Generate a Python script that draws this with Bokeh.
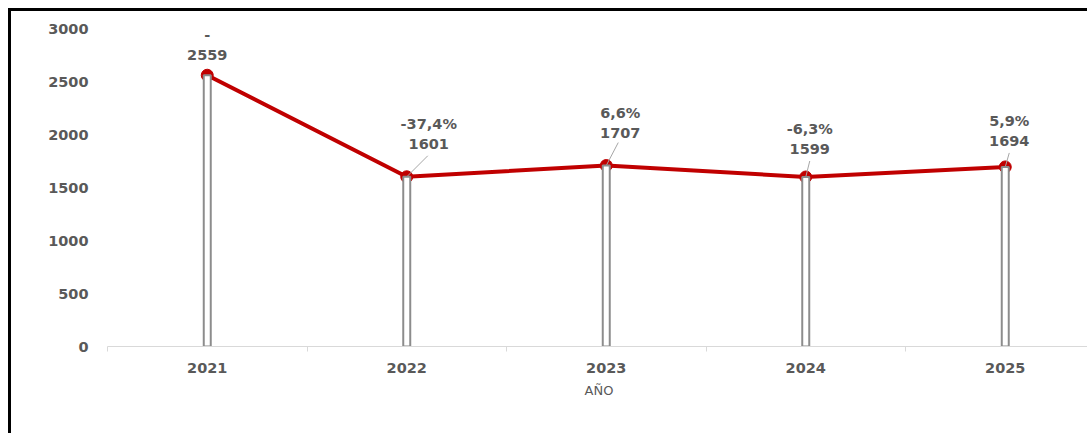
from bokeh.plotting import figure
from bokeh.models import Range1d, FixedTicker, ColumnDataSource, LinearAxis
from bokeh.core.properties import value
from bokeh.embed import file_html
from bokeh.resources import INLINE

# ---- data ----
years = ["2021", "2022", "2023", "2024", "2025"]
counts = [2559, 1601, 1707, 1599, 1694]
changes = ["-", "-37,4%", "6,6%", "-6,3%", "5,9%"]
y_ticks = [0, 500, 1000, 1500, 2000, 2500, 3000]

# ---- layout / style ----
FIG_W, FIG_H = 1079, 425
BORDER_L, BORDER_T, BORDER_B = 96, 17, 90
CAT_PX = 199.5
frame_w = FIG_W - BORDER_L
frame_h = FIG_H - BORDER_T - BORDER_B
x_end = -0.5 + frame_w / CAT_PX
units_per_px_y = (y_ticks[-1] - y_ticks[0]) / frame_h

GRAY_TXT = "#595959"
RED = "#C00000"
FONT = "DejaVu Sans"
FS = "14.5px"

xs = list(range(len(years)))

# label offsets in screen px (dx right, dy up) relative to the point
val_dx = [0, 22, 14, 4, 4]
val_dy = [20, 33, 33, 28, 26]
pct_gap = 20
lead_dx = [None, 21, 12, 4, 4]
lead_dy = [None, 21, 23, 16, 14]

src = ColumnDataSource(dict(
    x=xs, y=counts, year=years, chg=changes,
    vdx=val_dx, vdy=[-d for d in val_dy], pdy=[-(d + pct_gap) for d in val_dy],
))

p = figure(width=FIG_W, height=FIG_H, output_backend="svg", toolbar_location=None,
           x_range=Range1d(-0.5, x_end), y_range=Range1d(y_ticks[0], y_ticks[-1]),
           min_border_left=BORDER_L, min_border_right=0,
           min_border_top=BORDER_T, min_border_bottom=BORDER_B,
           x_axis_type=None, y_axis_type=None)
p.styles = {"border-left": "3px solid black", "border-top": "3px solid black",
            "margin-left": "8px", "margin-top": "8px"}
p.outline_line_color = None
p.xgrid.visible = False
p.ygrid.visible = False
p.background_fill_color = "white"
p.border_fill_color = "white"

xa = LinearAxis(ticker=FixedTicker(ticks=xs, minor_ticks=[i - 0.5 for i in range(len(years) + 1)]))
xa.major_label_overrides = {i: y for i, y in zip(xs, years)}
xa.major_tick_line_color = None
xa.major_tick_out = 0
xa.major_tick_in = 0
xa.minor_tick_line_color = "#d9d9d9"
xa.minor_tick_out = 5
xa.minor_tick_in = 0
xa.axis_line_color = "#d9d9d9"
xa.major_label_text_font = FONT
xa.major_label_text_font_style = "bold"
xa.major_label_text_font_size = FS
xa.major_label_text_color = GRAY_TXT
xa.major_label_standoff = 11
xa.axis_label = "AÑO"
xa.axis_label_text_font = FONT
xa.axis_label_text_font_style = "normal"
xa.axis_label_text_font_size = "13px"
xa.axis_label_text_color = GRAY_TXT
xa.axis_label_standoff = 7
p.add_layout(xa, "below")

ya = LinearAxis(ticker=FixedTicker(ticks=y_ticks))
ya.axis_line_color = None
ya.major_tick_line_color = None
ya.minor_tick_line_color = None
ya.major_tick_out = 0
ya.major_tick_in = 0
ya.major_label_standoff = 19
ya.major_label_text_font = FONT
ya.major_label_text_font_style = "bold"
ya.major_label_text_font_size = FS
ya.major_label_text_color = GRAY_TXT
p.add_layout(ya, "left")

# line + markers
p.line("x", "y", source=src, line_color=RED, line_width=4)
p.scatter("x", "y", source=src, size=12, fill_color=RED, line_color=RED)

# leader lines
lx0, ly0, lx1, ly1 = [], [], [], []
for i, v in enumerate(counts):
    if lead_dx[i] is None:
        continue
    lx0.append(i + lead_dx[i] / CAT_PX)
    ly0.append(v + lead_dy[i] * units_per_px_y)
    lx1.append(i)
    ly1.append(v)
p.segment(lx0, ly0, lx1, ly1, line_color="#a6a6a6", line_width=1)

# stems
p.vbar(x="x", top="y", bottom=0, width=7 / CAT_PX, source=src,
       fill_color="white", line_color="#8c8c8c", line_width=2)

# data labels
p.text("x", "y", text="y", source=src, x_offset="vdx", y_offset="vdy",
       text_align="center", text_baseline="middle", text_font=value(FONT),
       text_font_style="bold", text_font_size=FS, text_color=GRAY_TXT)
p.text("x", "y", text="chg", source=src, x_offset="vdx", y_offset="pdy",
       text_align="center", text_baseline="middle", text_font=value(FONT),
       text_font_style="bold", text_font_size=FS, text_color=GRAY_TXT)

open("out.html", "w").write(file_html(p, INLINE))
